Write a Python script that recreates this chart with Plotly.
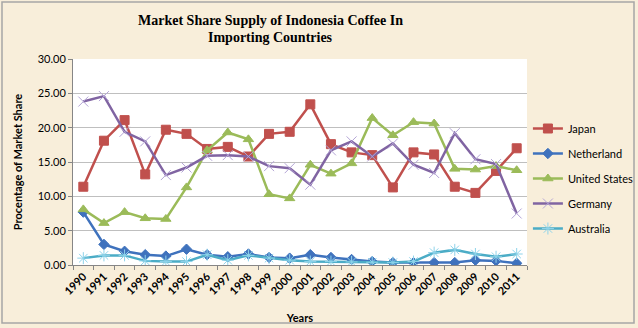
import plotly.graph_objects as go

years = [str(y) for y in range(1990, 2012)]
japan = [11.4, 18.1, 21.1, 13.2, 19.7, 19.1, 16.9, 17.2, 15.8, 19.1, 19.4, 23.4,
         17.6, 16.4, 16.0, 11.3, 16.4, 16.1, 11.4, 10.5, 13.7, 17.0]
netherland = [7.7, 3.0, 2.0, 1.5, 1.3, 2.3, 1.5, 1.2, 1.6, 1.1, 1.0, 1.5,
              1.1, 0.8, 0.5, 0.35, 0.35, 0.35, 0.35, 0.7, 0.6, 0.25]
united_states = [8.1, 6.1, 7.7, 6.8, 6.7, 11.3, 16.7, 19.3, 18.3, 10.3, 9.7, 14.6,
                 13.3, 14.8, 21.4, 18.9, 20.8, 20.6, 14.0, 13.9, 14.4, 13.8]
germany = [23.8, 24.6, 19.4, 18.0, 13.1, 14.2, 15.9, 16.0, 15.8, 14.4, 14.1, 11.7,
           16.7, 18.0, 15.8, 17.7, 14.6, 13.4, 19.2, 15.4, 14.7, 7.5]
australia = [1.0, 1.4, 1.4, 0.6, 0.5, 0.5, 1.5, 0.7, 1.4, 1.0, 0.7, 0.5,
             0.5, 0.45, 0.4, 0.35, 0.5, 1.8, 2.2, 1.6, 1.2, 1.6]
y_ticks = [0, 5, 10, 15, 20, 25, 30]
title_lines = ["Market Share Supply of Indonesia Coffee In", "Importing Countries"]

series = [
    ("Japan", japan, "#C0504D", "square", 9),
    ("Netherland", netherland, "#3F72BD", "diamond", 8),
    ("United States", united_states, "#9BBB59", "triangle-up", 9),
    ("Germany", germany, "#8064A2", "x-thin-open", 10),
    ("Australia", australia, "#4BACC6", "asterisk-open", 10),
]

fig = go.Figure()
for name, vals, col, sym, sz in series:
    mcol = col
    if name == "Germany":
        mcol = "#B4A5D6"
    elif name == "Australia":
        mcol = "#8ED3EA"
    fig.add_trace(go.Scatter(
        x=years, y=vals, name=name, mode="lines+markers",
        line=dict(color=col, width=2.5),
        marker=dict(symbol=sym, size=sz, color=mcol,
                    line=dict(color=mcol, width=1)),
        legendgroup=name,
    ))

annots = []
for i, t in enumerate(title_lines):
    annots.append(dict(
        text="<b>" + t + "</b>", xref="paper", yref="paper",
        x=0.434, y=[1.189, 1.102][i], xanchor="center", yanchor="middle",
        showarrow=False, font=dict(family="Liberation Serif", size=14, color="#000000"),
    ))

fig.update_layout(
    width=638, height=328,
    margin=dict(l=73, r=111, t=59, b=63, autoexpand=False),
    paper_bgcolor="#F8EEDA",
    plot_bgcolor="#FFFFFF",
    font=dict(family="Lato", size=11, color="#000000"),
    showlegend=True,
    legend=dict(x=1.002, xanchor="left", y=0.733, yanchor="top",
                font=dict(family="Lato", size=11, color="#000000"),
                bgcolor="rgba(0,0,0,0)", tracegroupgap=6, itemwidth=30),
    annotations=annots,
    shapes=[dict(type="rect", xref="paper", yref="paper",
                 x0=-0.1564, x1=1.2357, y0=-0.2816, y1=1.2767,
                 line=dict(color="#A6A6A6", width=1.5), fillcolor="rgba(0,0,0,0)")],
)

fig.update_xaxes(
    type="category", range=[-0.5, 21.5],
    tickvals=years, ticktext=["<b>" + y + "</b>" for y in years],
    tickangle=-45, tickfont=dict(family="Lato", size=11, color="#000000"),
    ticks="outside", tickson="boundaries", ticklen=4, tickcolor="#868686",
    showline=True, linecolor="#868686", linewidth=1, showgrid=False,
    automargin=False,
    title=dict(text="<b>Years</b>", font=dict(family="Lato", size=11), standoff=18),
)
fig.update_yaxes(
    range=[0, 30], tickvals=y_ticks, tickformat=".2f",
    tickfont=dict(family="Lato", size=11, color="#000000"),
    ticks="outside", ticklen=4, tickcolor="#868686",
    showline=True, linecolor="#868686", linewidth=1,
    showgrid=True, gridcolor="#BFBFBF", gridwidth=1, zeroline=False,
    automargin=False,
    title=dict(text="<b>Procentage of Market Share</b>", font=dict(family="Lato", size=11), standoff=12),
)

fig.write_html("out.html", config={"displayModeBar": False},
               post_script="document.body.style.margin='0';document.body.style.padding='0';")
